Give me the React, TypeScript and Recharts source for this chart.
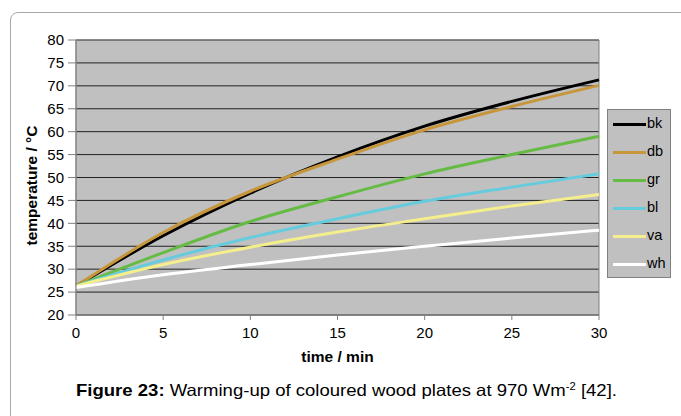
import React from "react";
import {
  LineChart,
  Line,
  XAxis,
  YAxis,
  CartesianGrid,
  Legend,
  ReferenceArea,
} from "recharts";

const times = [0, 5, 10, 15, 20, 25, 30];
const bk = [26.3, 37.3, 46.6, 54.5, 61.2, 66.6, 71.3];
const db = [26.3, 38.0, 47.0, 54.0, 60.4, 65.5, 70.1];
const gr = [26.3, 33.6, 40.4, 45.8, 50.8, 55.0, 59.0];
const bl = [26.3, 32.0, 36.9, 41.0, 44.8, 47.9, 50.8];
const va = [26.3, 31.0, 34.8, 38.1, 41.0, 43.8, 46.3];
const wh = [26.0, 28.8, 31.0, 33.1, 35.0, 36.8, 38.5];

const yTicks = [20, 25, 30, 35, 40, 45, 50, 55, 60, 65, 70, 75, 80];
const xTicks = [0, 5, 10, 15, 20, 25, 30];

const series = [
  { key: "bk", color: "#000000" },
  { key: "db", color: "#C8963A" },
  { key: "gr", color: "#66BB44" },
  { key: "bl", color: "#66CCDD" },
  { key: "va", color: "#F5EE8C" },
  { key: "wh", color: "#FFFFFF" },
];

const data = times.map((t, i) => ({
  t,
  bk: bk[i],
  db: db[i],
  gr: gr[i],
  bl: bl[i],
  va: va[i],
  wh: wh[i],
}));

const font = "'Liberation Sans', Arial, sans-serif";

const LegendBox = () => (
  <div
    style={{
      width: 64,
      height: 169,
      background: "#C0C0C0",
      border: "1px solid #808080",
      boxSizing: "border-box",
      paddingTop: 0,
    }}
  >
    {series.map((s) => (
      <div
        key={s.key}
        style={{
          display: "flex",
          alignItems: "center",
          height: 28,
          fontFamily: font,
          fontSize: 14.5,
          color: "#000",
        }}
      >
        <div
          style={{
            marginLeft: 5,
            width: 33,
            height: 3,
            background: s.color,
          }}
        />
        <span style={{ marginLeft: 1, marginTop: -2 }}>{s.key}</span>
      </div>
    ))}
  </div>
);

export default function App() {
  return (
    <div
      style={{
        position: "absolute",
        left: 0,
        top: 0,
        width: 681,
        height: 416,
        overflow: "hidden",
        background: "#fff",
      }}
    >
      <div
        style={{
          position: "absolute",
          left: 10,
          top: 12,
          width: 700,
          height: 440,
          border: "1px solid #a8a8a8",
          borderRadius: 8,
        }}
      />
      <div style={{ position: "absolute", left: 0, top: 0 }}>
        <LineChart
          width={681}
          height={416}
          data={data}
          margin={{ top: 40, right: 82, left: 30, bottom: 61 }}
        >
          <CartesianGrid
            vertical={false}
            fill="#C0C0C0"
            stroke="#222"
            strokeOpacity={1}
          />
          <ReferenceArea
            x1={0}
            x2={30}
            y1={20}
            y2={80}
            fill="none"
            stroke="#808080"
            strokeWidth={1}
            ifOverflow="visible"
          />
          <XAxis
            dataKey="t"
            type="number"
            domain={[0, 30]}
            ticks={xTicks}
            stroke="#808080"
            tickSize={5}
            tickMargin={7}
            height={40}
            tick={{ fill: "#000", fontSize: 15, fontFamily: font }}
            label={{
              value: "time / min",
              position: "insideBottom",
              offset: -7,
              style: {
                fill: "#000",
                fontSize: 15.5,
                fontWeight: "bold",
                fontFamily: font,
              },
            }}
          />
          <YAxis
            type="number"
            domain={[20, 80]}
            ticks={yTicks}
            interval={0}
            width={46}
            stroke="#808080"
            tickSize={8}
            tickMargin={4}
            tick={{ fill: "#000", fontSize: 15, fontFamily: font }}
            label={{
              value: "temperature / °C",
              angle: -90,
              position: "insideLeft",
              offset: 1,
              dy: 8,
              style: {
                fill: "#000",
                fontSize: 15.5,
                fontWeight: "bold",
                fontFamily: font,
                textAnchor: "middle",
              },
            }}
          />
          <Legend
            layout="vertical"
            align="center"
            verticalAlign="middle"
            content={<LegendBox />}
            wrapperStyle={{ left: 607, top: 109, width: 64, height: 169 }}
          />
          {series.map((s) => (
            <Line
              key={s.key}
              type="monotone"
              dataKey={s.key}
              stroke={s.color}
              strokeWidth={3}
              dot={false}
              isAnimationActive={false}
            />
          ))}
        </LineChart>
      </div>
      <svg
        width={681}
        height={416}
        style={{ position: "absolute", left: 0, top: 0, pointerEvents: "none" }}
      >
        <text
          x={76}
          y={396}
          textLength={541}
          lengthAdjust="spacingAndGlyphs"
          fontFamily={font}
          fontSize={16.5}
          fill="#000"
        >
          <tspan fontWeight="bold">Figure 23:</tspan>
          <tspan> Warming-up of coloured wood plates at 970 Wm</tspan>
          <tspan fontSize={10} dy={-6}>
            -2
          </tspan>
          <tspan dy={6}> [42].</tspan>
        </text>
      </svg>
    </div>
  );
}
